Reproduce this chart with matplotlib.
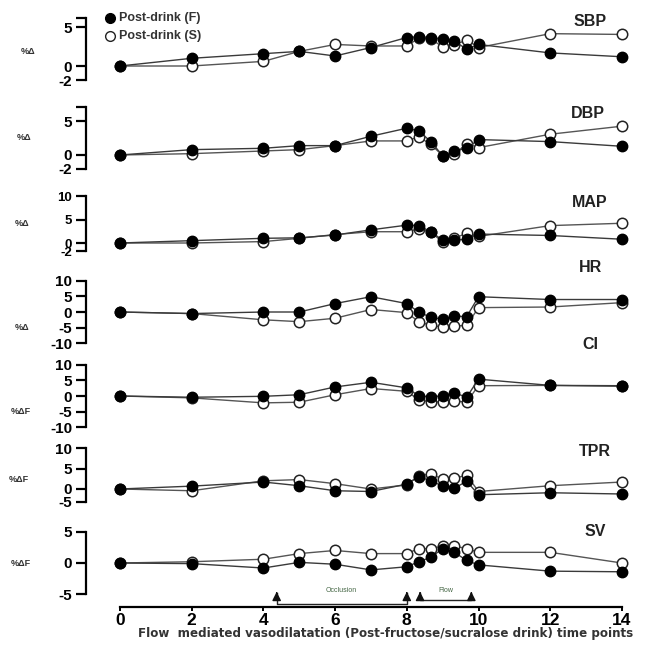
import numpy as np
import matplotlib
matplotlib.use("Agg")
import matplotlib.pyplot as plt

plt.rcParams['font.family'] = ['Liberation Sans', 'DejaVu Sans']
plt.rcParams['font.weight'] = 'bold'

# time points (x) shared by all panels
x = [0, 2, 4, 5, 6, 7, 8, 8.33, 8.67, 9, 9.33, 9.67, 10, 12, 14]

sbp_f = [0, 1.0, 1.6, 1.9, 1.3, 2.4, 3.7, 3.8, 3.7, 3.5, 3.2, 2.2, 2.8, 1.7, 1.2]
sbp_s = [0, 0, 0.6, 1.9, 2.8, 2.6, 2.6, 3.6, 3.5, 2.5, 2.7, 3.4, 2.4, 4.2, 4.1]
dbp_f = [0, 0.8, 1.0, 1.4, 1.4, 2.8, 4.0, 3.6, 2.0, -0.1, 0.6, 1.0, 2.3, 2.0, 1.3]
dbp_s = [0, 0.2, 0.6, 0.8, 1.4, 2.1, 2.1, 2.7, 1.6, -0.1, 0.1, 1.7, 1.1, 3.1, 4.3]
map_f = [0, 0.5, 1.0, 1.1, 1.7, 2.8, 3.8, 3.7, 2.4, 0.6, 0.6, 0.8, 1.9, 1.6, 0.8]
map_s = [0, 0, 0.3, 1.0, 1.8, 2.4, 2.4, 3.0, 2.3, 0.2, 1.0, 2.1, 1.4, 3.7, 4.2]
hr_f = [0, -0.5, 0, 0, 2.7, 4.9, 2.7, 0, -1.7, -2.3, -1.3, -1.5, 4.9, 4.0, 4.0]
hr_s = [0, -0.5, -2.5, -3.1, -2.0, 0.8, -0.2, -3.1, -4.3, -4.8, -4.5, -4.3, 1.4, 1.6, 3.0]
ci_f = [0, -0.4, -0.1, 0.4, 2.9, 4.4, 2.6, 0.1, -0.3, 0.1, 1.0, -0.4, 5.4, 3.4, 3.3]
ci_s = [0, -0.6, -2.2, -2.0, 0.4, 2.4, 1.5, -1.2, -1.9, -1.9, -1.7, -1.9, 3.3, 3.4, 3.1]
tpr_f = [0, 0.7, 1.7, 0.8, -0.7, -1.0, 1.2, 3.0, 2.0, 0.7, 0.2, 1.9, -2.3, -1.5, -2.0]
tpr_s = [0, -0.7, 2.0, 2.3, 1.3, 0, 1.0, 3.2, 3.7, 2.4, 2.6, 3.4, -1.0, 0.8, 1.7]
sv_f = [0, -0.1, -0.8, 0.1, -0.2, -1.1, -0.6, 0.2, 0.9, 2.3, 1.7, 0.4, -0.3, -1.3, -1.4]
sv_s = [0, 0.2, 0.6, 1.5, 2.0, 1.5, 1.5, 2.3, 2.3, 2.7, 2.7, 2.3, 1.7, 1.7, 0]

names = ["SBP", "DBP", "MAP", "HR", "CI", "TPR", "SV"]
ylabels = ["%Δ", "%Δ", "%Δ", "%Δ", "%ΔF", "%ΔF", "%ΔF"]
yticks = [[-2, 0, 5], [-2, 0, 5], [-2, 0, 5, 10], [-10, -5, 0, 5, 10],
          [-10, -5, 0, 5, 10], [-5, 0, 5, 10], [-5, 0, 5]]
xticks = [0, 2, 4, 6, 8, 10, 12, 14]

# layout in pixels: zero line, px per unit above / below zero, spine top value
zero_px = [66, 155, 243, 312, 396, 489, 563]
kpos = [7.7, 6.7, 4.7, 3.12, 3.12, 4.1, 6.27]
kneg = [7.2, 7.0, 4.0, 3.12, 3.12, 2.5, 6.27]
spine_top = [6.2, 7.1, 10, 10, 10, 10, 5]
label_px = [(590, 22), (588, 113), (590, 202), (590, 268), (590, 345), (595, 451), (595, 532)]
ylab_px = [(28, 52), (24, 137), (22, 224), (22, 327), (21, 412), (19, 479), (21, 563)]

W, H = 654, 646
fig = plt.figure(figsize=(W / 100, H / 100), dpi=100)

x0_px, xunit = 120, 35.85
L_px, R_px = 86, 640
xlo = (L_px - x0_px) / xunit
xhi = (R_px - x0_px) / xunit

series = [(sbp_f, sbp_s), (dbp_f, dbp_s), (map_f, map_s), (hr_f, hr_s),
          (ci_f, ci_s), (tpr_f, tpr_s), (sv_f, sv_s)]

axes = []
for i, name in enumerate(names):
    f, s = series[i]
    z, kp, kn = zero_px[i], kpos[i], kneg[i]
    ylo = min(yticks[i]) - 0.5
    yhi = spine_top[i] + 0.5
    if i == 6:
        ylo = -(607 - z) / kn
    top = z - kp * yhi
    bot = z + kn * (-ylo)
    ax = fig.add_axes([L_px / W, 1 - bot / H, (R_px - L_px) / W, (bot - top) / H])
    ax.patch.set_alpha(0)
    r = kn / kp
    ax.set_yscale('function', functions=(lambda v, r=r: np.where(np.asarray(v) < 0, np.asarray(v) * r, v),
                                         lambda u, r=r: np.where(np.asarray(u) < 0, np.asarray(u) / r, u)))
    ax.set_xlim(xlo, xhi)
    ax.set_ylim(ylo, yhi)

    ax.plot(x, f, '-', color='#3a3a3a', lw=1.0, marker='o', ms=7.5,
            mfc='black', mec='black', clip_on=False, zorder=3)
    ax.plot(x, s, '-', color='#555555', lw=1.0, marker='o', ms=7.5,
            mfc='white', mec='#222222', mew=1.1, clip_on=False, zorder=2)

    for sp in ['top', 'right']:
        ax.spines[sp].set_visible(False)
    ax.spines['left'].set_linewidth(1.6)
    ax.spines['left'].set_bounds(min(yticks[i]), spine_top[i])
    tk = list(yticks[i])
    tl = [str(t) for t in tk]
    if spine_top[i] > max(tk):
        tk.append(spine_top[i])
        tl.append('')
    ax.set_yticks(tk)
    ax.set_yticklabels(tl)
    ax.yaxis.set_minor_locator(matplotlib.ticker.NullLocator())
    ax.tick_params(axis='y', direction='out', length=7, width=1.6, pad=3,
                   labelsize=11)
    if i == 2:
        # the "0" and "-2" labels sit close together here
        for t in ax.get_yticklabels():
            t.set_fontsize(9.5)

    if i < 6:
        ax.spines['bottom'].set_visible(False)
        ax.set_xticks([])
    else:
        ax.spines['bottom'].set_linewidth(1.6)
        ax.spines['bottom'].set_bounds(0, 14)
        ax.set_xticks(xticks)
        ax.tick_params(axis='x', direction='out', length=3, width=1.4, pad=1,
                       labelsize=12.5)
    lx, ly = label_px[i]
    fig.text(lx / W, 1 - ly / H, name, fontsize=11.5, ha='center', va='center', color='#222222')
    yx, yy = ylab_px[i]
    fig.text(yx / W, 1 - yy / H, ylabels[i], fontsize=6.5, ha='center', va='center', color='#333333')
    axes.append(ax)

fig.text(386 / W, 1 - 634 / H,
         'Flow  mediated vasodilatation (Post-fructose/sucralose drink) time points',
         fontsize=8.6, ha='center', va='center', color='#333333',
         family=['DejaVu Sans'])

# occlusion / flow brackets in the SV panel
ax = axes[6]
z, k = zero_px[6], kpos[6]
tip = -(593 - z) / k
base1 = -(604 - z) / k
base2 = -(600 - z) / k
for xa, xb, yb, txt in [(4.37, 8.0, base1, 'Occlusion'), (8.37, 9.8, base2, 'Flow')]:
    ax.plot([xa, xa, xb, xb], [tip, yb, yb, tip], color='#222222', lw=1.0, clip_on=False)
    for xx in (xa, xb):
        ax.annotate('', xy=(xx, tip + 0.2), xytext=(xx, tip - 0.6),
                    arrowprops=dict(arrowstyle='-|>', color='#111111', lw=1.0,
                                    mutation_scale=13), annotation_clip=False)
    ax.text((xa + xb) / 2, -(590 - z) / k, txt, fontsize=5, ha='center', va='center',
            color='#446644', fontweight='normal')

# legend
fig.lines.append(plt.Line2D([110 / W], [1 - 18 / H], marker='o', ms=7, mfc='black', mec='black',
                            transform=fig.transFigure, linestyle='none'))
fig.lines.append(plt.Line2D([110 / W], [1 - 36 / H], marker='o', ms=7, mfc='white', mec='#222222',
                            transform=fig.transFigure, linestyle='none'))
fig.text(119 / W, 1 - 18 / H, 'Post-drink (F)', fontsize=9, va='center', color='#333333')
fig.text(119 / W, 1 - 36 / H, 'Post-drink (S)', fontsize=9, va='center', color='#333333')

fig.savefig('out.png', dpi=100)
